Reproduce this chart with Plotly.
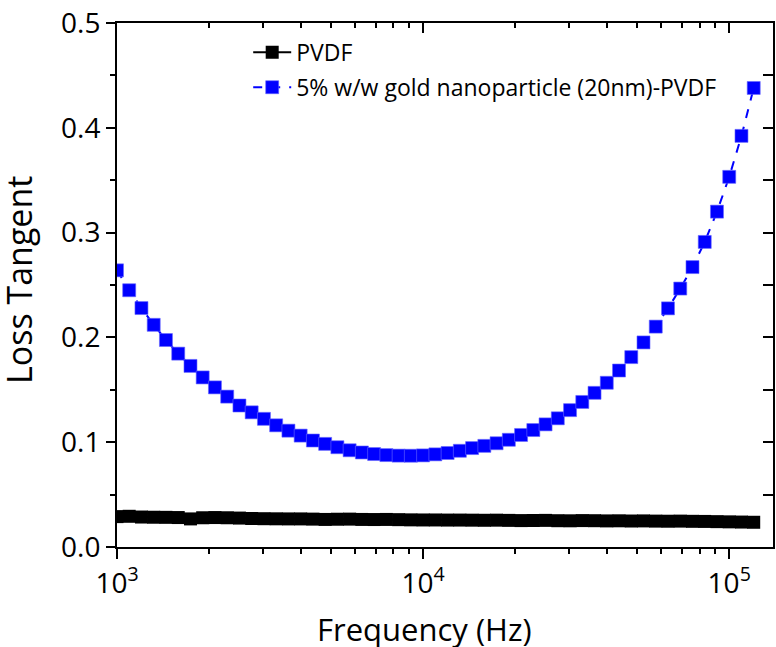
import plotly.graph_objects as go

# Frequency sweep (Hz)
freq = [1000, 1096, 1202, 1318, 1445, 1585, 1738, 1905, 2089, 2291,
        2512, 2754, 3020, 3311, 3631, 3981, 4365, 4786, 5248, 5754,
        6310, 6918, 7586, 8318, 9120, 10000, 10965, 12023, 13183, 14454,
        15849, 17378, 19055, 20893, 22909, 25119, 27542, 30200, 33113, 36308,
        39811, 43652, 47863, 52481, 57544, 63096, 69183, 75858, 83176, 91201,
        100000, 109648, 120226]

# Loss tangent, neat PVDF
tan_pvdf = [0.0290, 0.0293, 0.0286, 0.0284, 0.0283, 0.0281, 0.0268, 0.0279, 0.0281, 0.0279,
            0.0276, 0.0272, 0.0270, 0.0269, 0.0268, 0.0268, 0.0266, 0.0263, 0.0265, 0.0266,
            0.0263, 0.0262, 0.0263, 0.0261, 0.0259, 0.0258, 0.0258, 0.0257, 0.0257, 0.0256,
            0.0255, 0.0256, 0.0254, 0.0252, 0.0253, 0.0254, 0.0251, 0.0250, 0.0252, 0.0251,
            0.0249, 0.0250, 0.0248, 0.0249, 0.0247, 0.0246, 0.0247, 0.0245, 0.0244, 0.0242,
            0.0240, 0.0238, 0.0236]

# Loss tangent, 5% w/w gold nanoparticle (20nm)-PVDF
tan_gold = [0.264, 0.245, 0.228, 0.212, 0.1975, 0.1845, 0.1728, 0.1618, 0.1523, 0.1435,
            0.135, 0.1285, 0.1223, 0.1161, 0.111, 0.1063, 0.1016, 0.0984, 0.0952, 0.0923,
            0.0902, 0.0887, 0.0877, 0.0872, 0.0871, 0.0874, 0.0884, 0.0897, 0.0918, 0.0944,
            0.0965, 0.099, 0.1023, 0.1069, 0.1116, 0.117, 0.1228, 0.1306, 0.1384, 0.1471,
            0.1567, 0.1684, 0.1812, 0.1952, 0.2103, 0.2277, 0.2466, 0.2671, 0.2911, 0.32,
            0.3532, 0.3923, 0.438]

x_tickvals = [1e3, 1e4, 1e5]
x_ticktext = ["10<sup>3</sup>", "10<sup>4</sup>", "10<sup>5</sup>"]
x_minor = [m * 10 ** e for e in (3, 4) for m in range(2, 10)]
y_tickvals = [0.0, 0.1, 0.2, 0.3, 0.4, 0.5]
y_ticktext = ["0.0", "0.1", "0.2", "0.3", "0.4", "0.5"]
y_minor = [0.05, 0.15, 0.25, 0.35, 0.45]
y_right = [0.0, 0.05, 0.1, 0.15, 0.2, 0.25, 0.3, 0.35, 0.4, 0.45, 0.5]

FONT = "Open Sans"
X_RANGE = [3, 5.143]
Y_RANGE = [0, 0.5]

fig = go.Figure()
fig.add_trace(go.Scatter(
    x=freq, y=tan_pvdf, name="PVDF", mode="lines+markers",
    legendgroup="a",
    line=dict(color="#000000", width=2),
    marker=dict(symbol="square", size=13, color="#000000"),
))
fig.add_trace(go.Scatter(
    x=freq, y=tan_gold, name="5% w/w gold nanoparticle (20nm)-PVDF",
    mode="lines+markers", legendgroup="b",
    line=dict(color="#0000FF", width=2, dash="dash"),
    marker=dict(symbol="square", size=13, color="#0000FF",
                line=dict(color="#6666FF", width=0.6)),
))

axis_common = dict(showline=True, linecolor="black", linewidth=2,
                   showgrid=False, zeroline=False, tickcolor="black",
                   tickwidth=2)
minor_style = dict(tickwidth=2, tickcolor="black", showgrid=False)

fig.update_layout(
    width=776, height=647,
    margin=dict(l=117, r=3, t=17, b=100),
    paper_bgcolor="white", plot_bgcolor="white",
    font=dict(family=FONT, color="black"),
    showlegend=True,
    legend=dict(x=0.2, y=0.985, xanchor="left", yanchor="top",
                bgcolor="rgba(0,0,0,0)", font=dict(size=23, family=FONT),
                itemwidth=38,
                traceorder="grouped", tracegroupgap=2),
    xaxis=dict(type="log", range=X_RANGE, tickvals=x_tickvals, ticktext=x_ticktext,
               ticks="outside", ticklen=10, tickfont=dict(size=28),
               minor=dict(ticks="outside", ticklen=5, tickvals=x_minor, **minor_style),
               **axis_common),
    yaxis=dict(range=Y_RANGE, tickvals=y_tickvals, ticktext=y_ticktext,
               ticks="outside", ticklen=9, tickfont=dict(size=28),
               ticklabeloverflow="allow",
               minor=dict(ticks="outside", ticklen=5, tickvals=y_minor, **minor_style),
               **axis_common),
    xaxis2=dict(type="log", range=X_RANGE, overlaying="x", side="top",
                tickvals=x_tickvals, showticklabels=False,
                ticks="inside", ticklen=10,
                minor=dict(ticks="inside", ticklen=5, tickvals=x_minor, **minor_style),
                **axis_common),
    yaxis2=dict(range=Y_RANGE, overlaying="y", side="right",
                tickvals=y_right, showticklabels=False,
                ticks="inside", ticklen=10,
                **axis_common),
    annotations=[
        dict(text="Frequency (Hz)", xref="paper", yref="paper",
             x=0.468, y=-0.157, xanchor="center", yanchor="middle",
             showarrow=False, font=dict(size=31, family=FONT)),
        dict(text="Loss Tangent", xref="paper", yref="paper",
             x=-0.149, y=0.51, xanchor="center", yanchor="middle",
             textangle=-90, showarrow=False, font=dict(size=34, family=FONT)),
    ],
)

# Invisible carrier trace so the mirrored top/right axes are drawn
fig.add_trace(go.Scatter(x=[freq[0]], y=[tan_pvdf[0]], xaxis="x2", yaxis="y2",
                         mode="markers", marker=dict(opacity=0),
                         showlegend=False, hoverinfo="skip"))

fig.write_html("out.html")
